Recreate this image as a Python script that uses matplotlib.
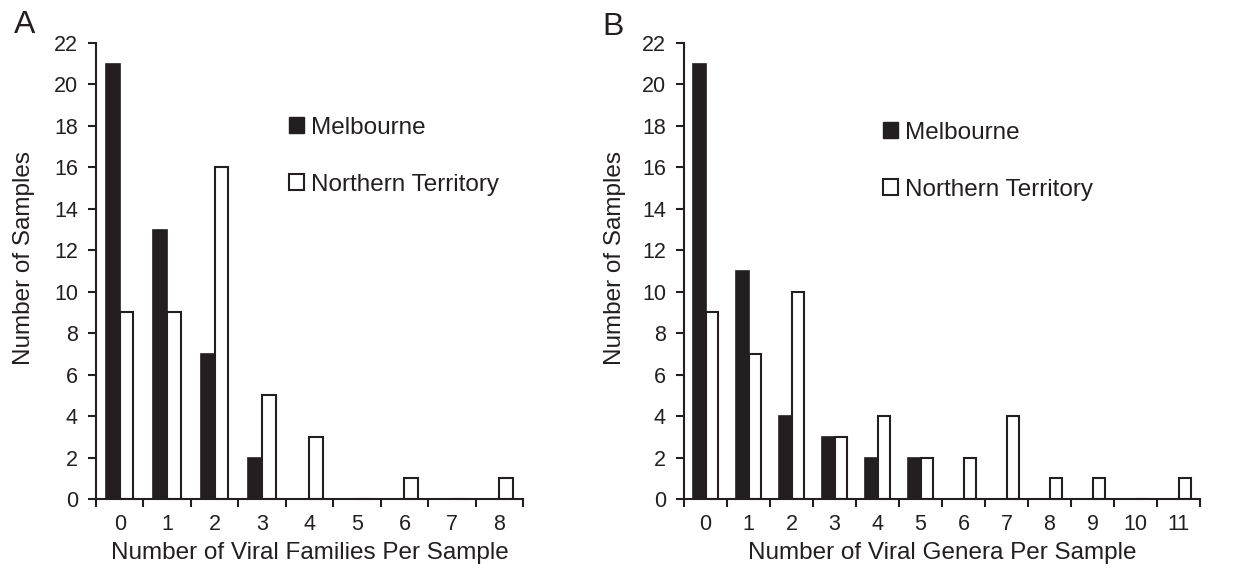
import numpy as np
import matplotlib.pyplot as plt
from matplotlib.patches import Patch

plt.rcParams['font.family'] = ['Liberation Sans', 'DejaVu Sans']

INK = '#231f20'

# panel A: viral families per sample
families = list(range(9))
fam_melbourne = [21, 13, 7, 2, 0, 0, 0, 0, 0]
fam_northern = [9, 9, 16, 5, 3, 0, 1, 0, 1]

# panel B: viral genera per sample
genera = list(range(12))
gen_melbourne = [21, 11, 4, 3, 2, 2, 0, 0, 0, 0, 0, 0]
gen_northern = [9, 7, 10, 3, 4, 2, 2, 4, 1, 1, 0, 1]

y_ticks = list(range(0, 23, 2))


def panel(ax, cats, melb, north, xlabel, ylabel_x, legend_xy):
    x = np.array(cats)
    w = 0.29
    ax.bar(x - w / 2, melb, width=w, color=INK, edgecolor=INK, linewidth=1.2)
    ax.bar(x + w / 2, north, width=w, color='white', edgecolor=INK, linewidth=1.5)

    ax.set_xlim(-0.5, len(cats) - 0.5)
    ax.set_ylim(0, 22)
    ax.set_yticks(y_ticks)
    ax.set_xticks(x)
    ax.set_xticklabels([str(c) for c in cats])
    ax.set_xticks(np.arange(-0.5, len(cats), 1.0), minor=True)
    ax.tick_params(axis='x', which='major', length=0, pad=11, labelsize=15.5, colors=INK)
    ax.tick_params(axis='x', which='minor', length=6, width=1.5, direction='out', color=INK)
    ax.tick_params(axis='y', length=6, width=1.5, direction='out', labelsize=15.5,
                   colors=INK, pad=7)

    for s in ['top', 'right']:
        ax.spines[s].set_visible(False)
    for s in ['left', 'bottom']:
        ax.spines[s].set_linewidth(1.5)
        ax.spines[s].set_color(INK)

    ax.set_xlabel(xlabel, fontsize=17.5, color=INK, labelpad=5)
    ax.set_ylabel('Number of Samples', fontsize=17.5, color=INK)
    ax.yaxis.set_label_coords(ylabel_x, 0.528)

    handles = [Patch(facecolor=INK, edgecolor=INK, label='Melbourne'),
               Patch(facecolor='white', edgecolor=INK, linewidth=1.5, label='Northern Territory')]
    leg = ax.legend(handles=handles, loc='upper left', bbox_to_anchor=legend_xy,
                    frameon=False, fontsize=17.5, handlelength=0.62, handleheight=0.62,
                    handletextpad=0.3, labelspacing=1.44, borderaxespad=0)
    for t in leg.get_texts():
        t.set_color(INK)


fig = plt.figure(figsize=(12.5, 5.71), dpi=100)
ax1 = fig.add_axes([0.0768, 0.1261, 0.3416, 0.7986])
ax2 = fig.add_axes([0.5472, 0.1261, 0.4128, 0.7986])

panel(ax1, families, fam_melbourne, fam_northern,
      'Number of Viral Families Per Sample', -0.143, (0.429, 0.86))
panel(ax2, genera, gen_melbourne, gen_northern,
      'Number of Viral Genera Per Sample', -0.112, (0.366, 0.849))

fig.text(14 / 1250, 1 - 10 / 571, 'A', fontsize=23, color=INK, ha='left', va='top')
fig.text(602 / 1250, 1 - 12 / 571, 'B', fontsize=23, color=INK, ha='left', va='top')

fig.savefig('out.png', dpi=100)
